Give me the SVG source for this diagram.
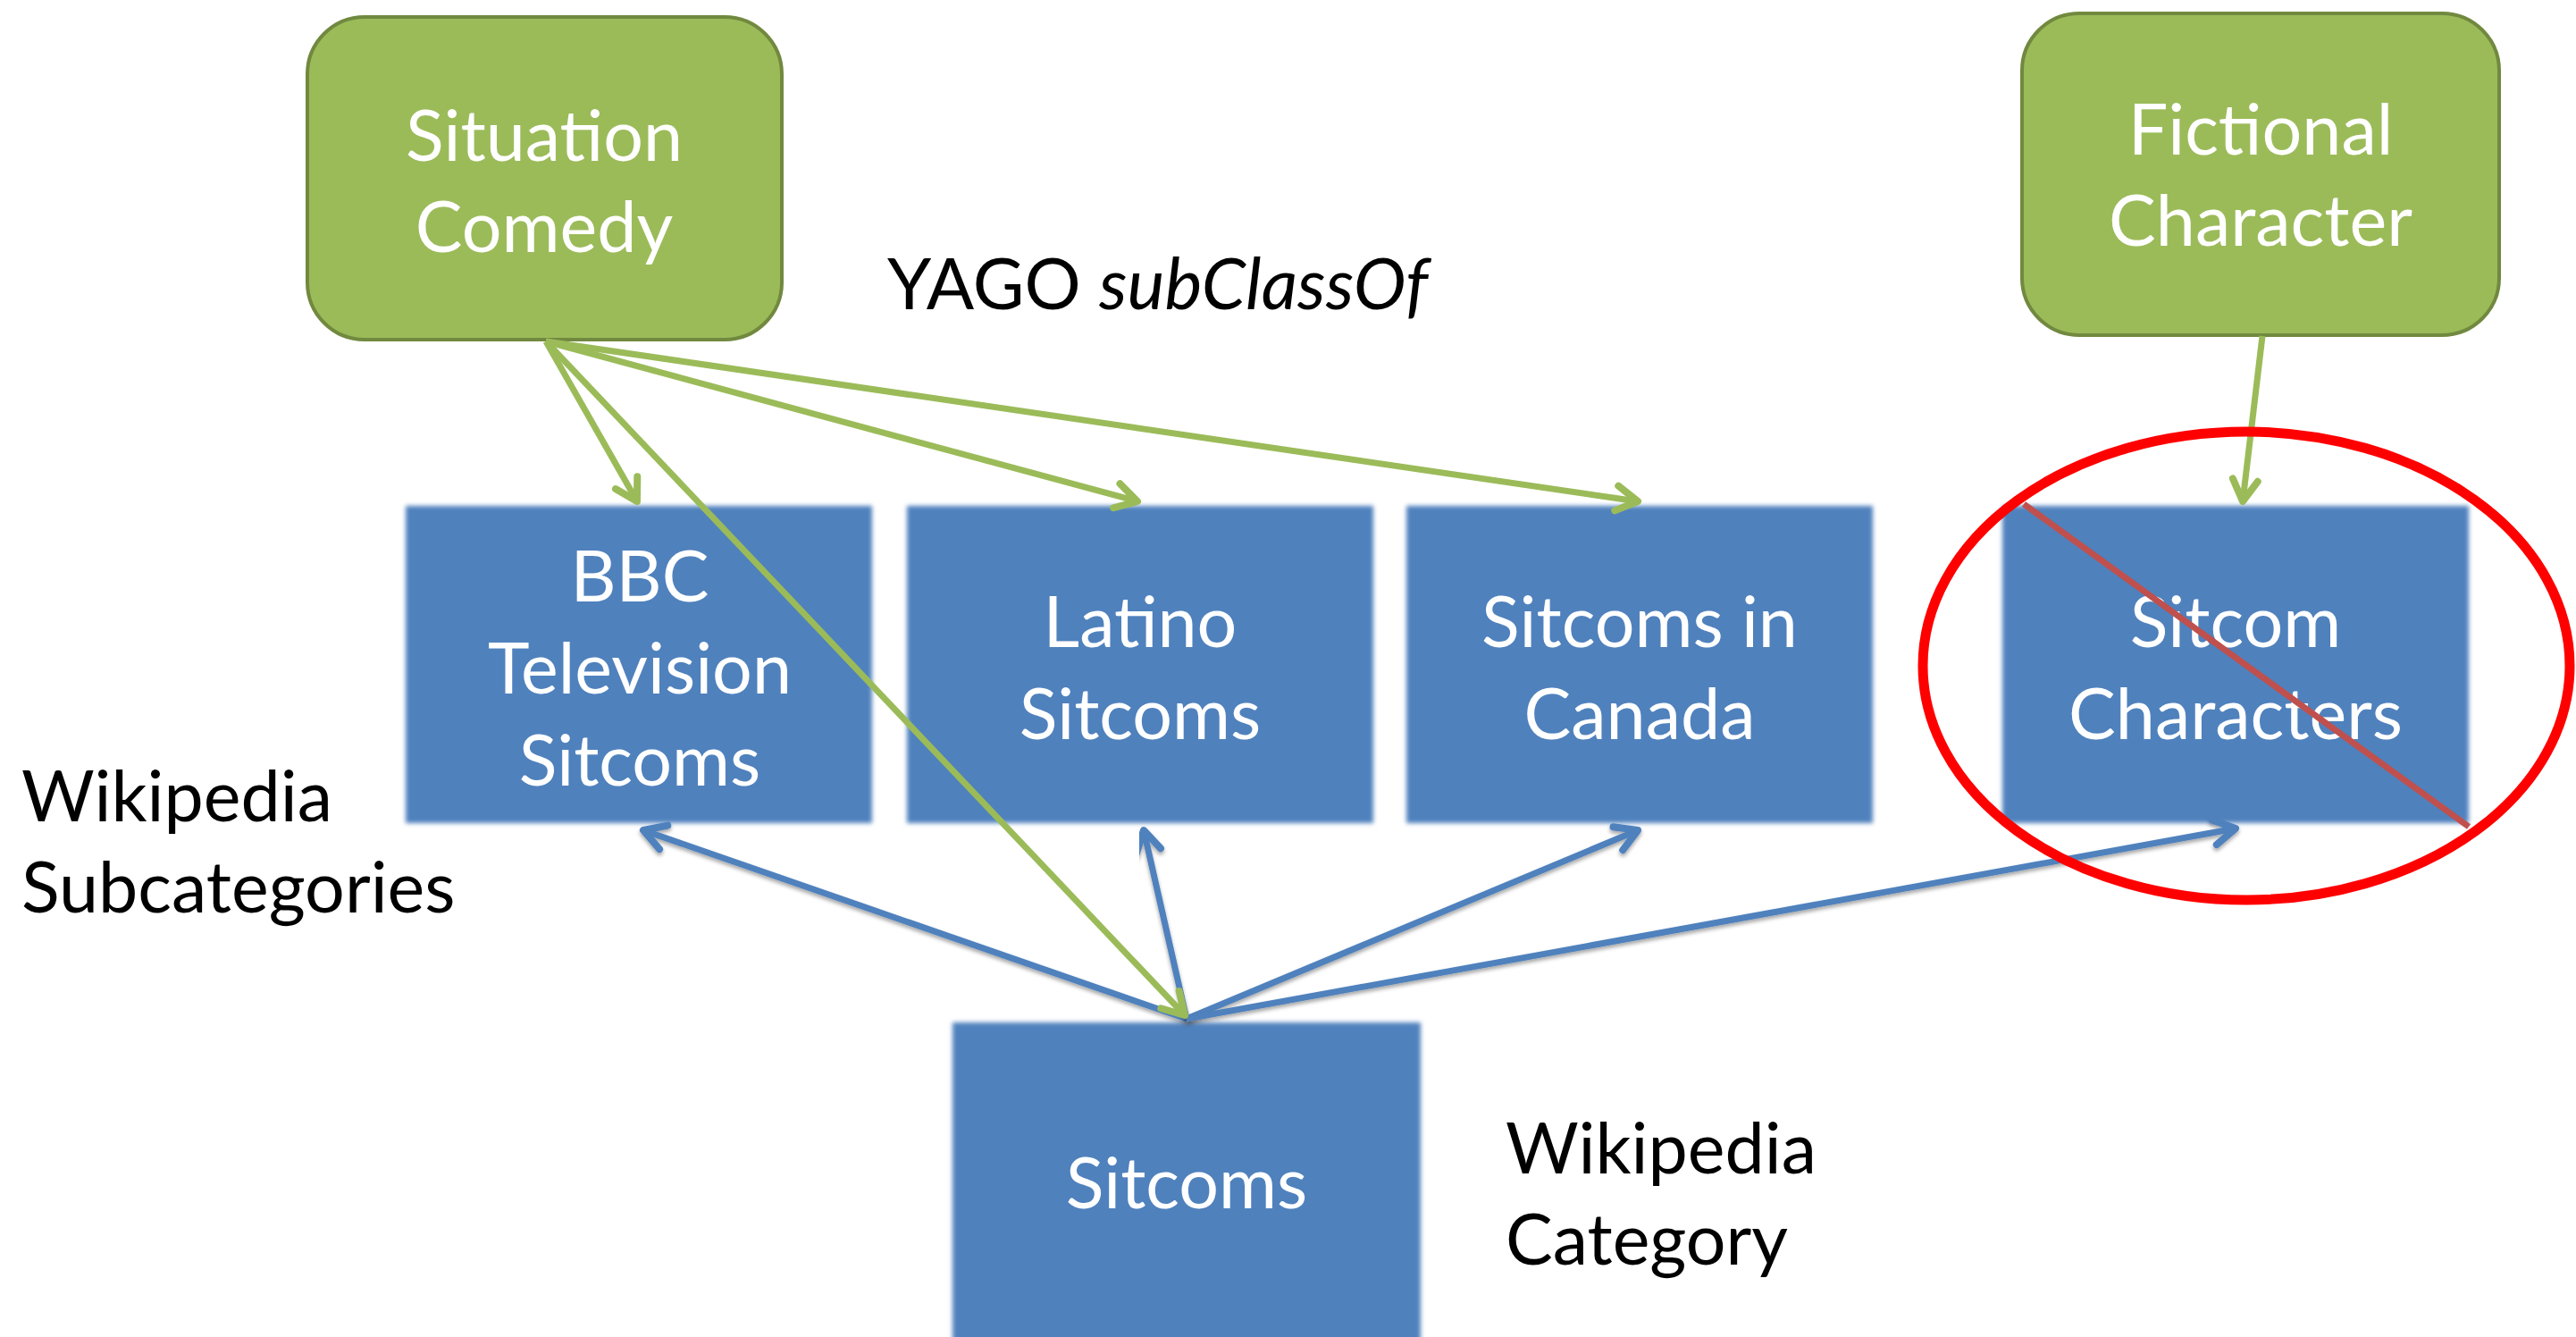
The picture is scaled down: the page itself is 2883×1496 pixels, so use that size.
<svg xmlns="http://www.w3.org/2000/svg" width="2883" height="1496" viewBox="0 0 2883 1496">
<style>
.green{fill:#9BBB59;stroke:#71893F;stroke-width:4}
.blue{fill:#4F81BD;filter:url(#soft)}
.nt{font-family:Lato,"Open Sans","Liberation Sans",sans-serif;font-size:79px;fill:#FFFFFF;text-anchor:middle}
.lb{font-family:Lato,"Open Sans","Liberation Sans",sans-serif;font-size:79px;fill:#000000}
.gl{stroke:#9BBB59;stroke-width:7;fill:none;marker-end:url(#ag)}
.bl{stroke:#4F81BD;stroke-width:7;fill:none;marker-end:url(#ab);filter:url(#sh)}
</style>
<defs>
<filter id="soft" x="-5%" y="-5%" width="110%" height="110%">
<feGaussianBlur stdDeviation="2.5"/>
</filter>
<filter id="sh" x="-10%" y="-10%" width="120%" height="120%">
<feDropShadow dx="0" dy="3" stdDeviation="2" flood-color="#000" flood-opacity="0.35"/>
</filter>
<marker id="ag" viewBox="-30 -20 36 40" refX="0" refY="0" markerWidth="36" markerHeight="40" markerUnits="userSpaceOnUse" orient="auto">
<path d="M-24,-14 L0,0 L-24,14" fill="none" stroke="#9BBB59" stroke-width="8" stroke-linecap="round" stroke-linejoin="round"/>
</marker>
<marker id="ab" viewBox="-30 -20 36 40" refX="0" refY="0" markerWidth="36" markerHeight="40" markerUnits="userSpaceOnUse" orient="auto">
<path d="M-24,-14 L0,0 L-24,14" fill="none" stroke="#4F81BD" stroke-width="8" stroke-linecap="round" stroke-linejoin="round"/>
</marker>
</defs>
<rect width="2883" height="1496" fill="#FFFFFF"/>

<g id="situation-comedy">
<rect class="green" x="344" y="19" width="531" height="361" rx="64" ry="64"/>
<text class="nt" x="609" y="180">Situation</text>
<text class="nt" x="609" y="282">Comedy</text>
</g>
<g id="fictional-character">
<rect class="green" x="2263" y="15" width="534" height="360" rx="64" ry="64"/>
<text class="nt" x="2530" y="173">Fictional</text>
<text class="nt" x="2530" y="275">Character</text>
</g>
<g id="bbc">
<rect class="blue" x="454" y="566" width="522" height="355"/>
<text class="nt" x="716" y="673">BBC</text>
<text class="nt" x="716" y="776">Television</text>
<text class="nt" x="716" y="879">Sitcoms</text>
</g>
<g id="latino">
<rect class="blue" x="1015" y="566" width="522" height="355"/>
<text class="nt" x="1276" y="724">Latino</text>
<text class="nt" x="1276" y="827">Sitcoms</text>
</g>
<g id="canada">
<rect class="blue" x="1574" y="566" width="522" height="355"/>
<text class="nt" x="1835" y="724">Sitcoms in</text>
<text class="nt" x="1835" y="827">Canada</text>
</g>
<g id="sitcom-characters">
<rect class="blue" x="2241" y="566" width="522" height="355"/>
<text class="nt" x="2502" y="724">Sitcom</text>
<text class="nt" x="2502" y="827">Characters</text>
</g>
<g id="sitcoms">
<rect class="blue" x="1066" y="1144" width="524" height="360"/>
<text class="nt" x="1328" y="1352">Sitcoms</text>
</g>

<g id="labels">
<text class="lb" x="993" y="346">YAGO <tspan font-style="italic">subClassOf</tspan></text>
<text class="lb" x="24" y="919">Wikipedia</text>
<text class="lb" x="24" y="1021">Subcategories</text>
<text class="lb" x="1685" y="1313">Wikipedia</text>
<text class="lb" x="1685" y="1415">Category</text>
</g>

<g id="connectors">
<line class="bl" x1="1328" y1="1140" x2="720" y2="929"/>
<line class="bl" x1="1328" y1="1140" x2="1280" y2="929"/>
<line class="bl" x1="1328" y1="1140" x2="1833" y2="929"/>
<line class="bl" x1="1328" y1="1140" x2="2502" y2="927"/>
<line class="gl" x1="611" y1="382" x2="713" y2="561"/>
<line class="gl" x1="611" y1="382" x2="1273" y2="561"/>
<line class="gl" x1="611" y1="382" x2="1833" y2="561"/>
<line class="gl" x1="611" y1="382" x2="1326" y2="1136"/>
<line class="gl" x1="2532" y1="376" x2="2510" y2="561"/>
</g>

<g id="strike">
<line x1="2265" y1="564" x2="2763" y2="925" stroke="#C0504D" stroke-width="7"/>
<ellipse cx="2514" cy="745" rx="362" ry="262" fill="none" stroke="#FF0000" stroke-width="11"/>
</g>
</svg>
